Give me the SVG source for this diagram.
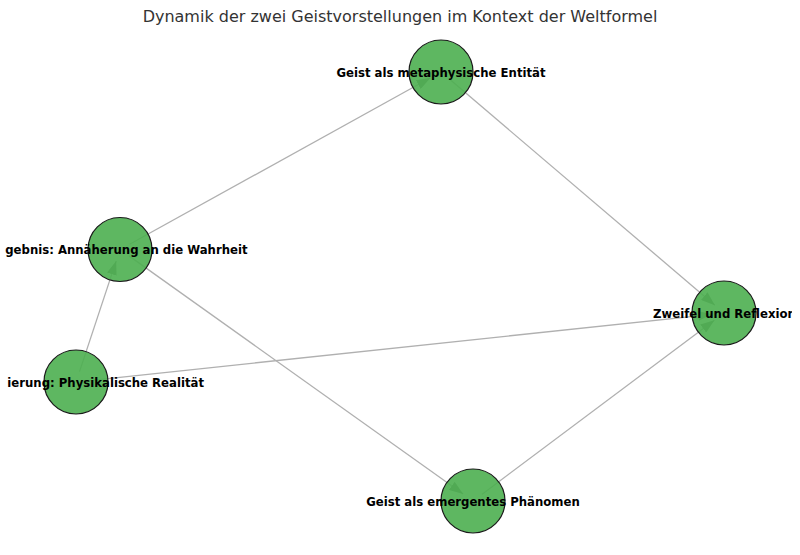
<svg xmlns="http://www.w3.org/2000/svg" width="800" height="555" viewBox="0 0 800 555">
<style>
.edge{stroke:#b0b0b0;stroke-width:1.3;fill:none}
.node{fill:#4caf50;fill-opacity:0.9;stroke:#1a1a1a;stroke-width:1.2}
.lbl{font-family:"DejaVu Sans",sans-serif;font-weight:bold;font-size:11.7px;fill:#000;text-anchor:middle}
.title{font-family:"DejaVu Sans",sans-serif;font-size:16px;fill:#333;text-anchor:middle}
</style>
<defs>
<marker id="ah" markerUnits="userSpaceOnUse" markerWidth="14" markerHeight="10" refX="14" refY="5" orient="auto">
<path d="M0,0 L14,5 L0,10 z" fill="#7a7a7a"/>
</marker>
<clipPath id="plot"><rect x="7" y="0" width="785" height="555"/></clipPath>
</defs>
<rect width="800" height="555" fill="#fff"/>
<text class="title" x="400" y="22">Dynamik der zwei Geistvorstellungen im Kontext der Weltformel</text>
<g id="edges">
<line class="edge" x1="129.6" y1="244.2" x2="430.5" y2="77.8" marker-end="url(#ah)"/>
<line class="edge" x1="449.4" y1="79.1" x2="714.9" y2="305.2" marker-end="url(#ah)"/>
<line class="edge" x1="79.5" y1="371.6" x2="116.2" y2="260.9" marker-end="url(#ah)"/>
<line class="edge" x1="129" y1="255.9" x2="463.2" y2="494" marker-end="url(#ah)"/>
<line class="edge" x1="481.8" y1="494.4" x2="714.4" y2="320.2" marker-end="url(#ah)"/>
<line class="edge" x1="86.9" y1="380.8" x2="712.1" y2="314.3" marker-end="url(#ah)"/>
</g>
<g id="node-meta">
<circle class="node" cx="441" cy="72" r="32"/>
<text class="lbl" x="441" y="76.5">Geist als metaphysische Entität</text>
</g>
<g id="node-ergebnis">
<circle class="node" cx="120" cy="249.5" r="32"/>
<text class="lbl" x="247.5" y="254" style="text-anchor:end">gebnis: Annäherung an die Wahrheit</text>
</g>
<g id="node-physik">
<circle class="node" cx="76" cy="382" r="32"/>
<text class="lbl" x="204" y="386.5" style="text-anchor:end">ierung: Physikalische Realität</text>
</g>
<g id="node-zweifel">
<circle class="node" cx="724" cy="313" r="32"/>
<text class="lbl" x="653" y="317.5" style="text-anchor:start" clip-path="url(#plot)">Zweifel und Reflexion</text>
</g>
<g id="node-emergent">
<circle class="node" cx="473" cy="501" r="32"/>
<text class="lbl" x="473" y="505.5">Geist als emergentes Phänomen</text>
</g>
</svg>
